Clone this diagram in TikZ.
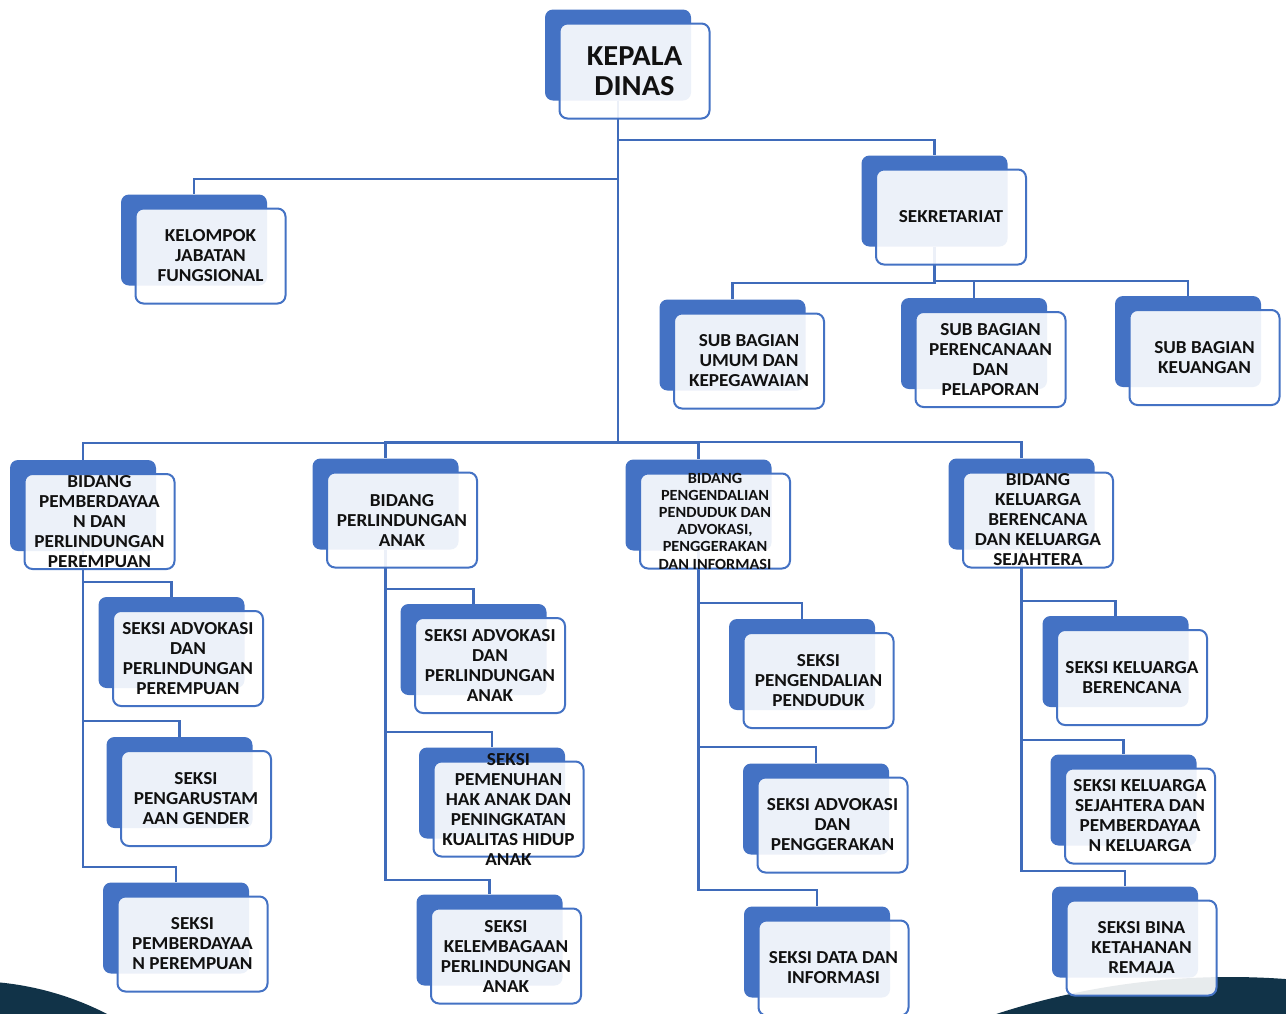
\documentclass[tikz,border=0pt]{standalone}
\usepackage{fontspec}
\setmainfont{Carlito}[FakeStretch=1.05]
\pgfdeclarelayer{bg}
\pgfdeclarelayer{backs}
\pgfdeclarelayer{lines}
\pgfsetlayers{bg,backs,lines,main}
\definecolor{myblue}{HTML}{4472C4}
\definecolor{linecol}{HTML}{3F6BBA}
\definecolor{darkbg}{RGB}{17,51,72}
\definecolor{textcol}{HTML}{111111}
\tikzset{
  backbox/.style={fill=myblue, rounded corners=8pt, minimum width=146pt, minimum height=91pt, inner sep=0pt},
  frontbox/.style={draw=myblue, line width=2pt, fill=white, fill opacity=0.9, rounded corners=8pt, minimum width=150pt, minimum height=95pt, inner sep=0pt},
  boxtext/.style={inner sep=0pt, align=center, text=textcol, font=\fontsize{18.3}{20}\selectfont\bfseries},
  smalltext/.style={font=\fontsize{15.5}{17.2}\selectfont\bfseries},
  bigtext/.style={font=\fontsize{29}{30}\selectfont\bfseries},
  conn/.style={draw=linecol, line width=2.2pt}
}
% #1 name, #2 back centre x, #3 back centre y, #4 extra text style, #5 text
\newcommand\orgbox[5]{%
  \begin{pgfonlayer}{backs}\node[backbox] (#1-b) at (#2,#3) {};\end{pgfonlayer}
  \node[frontbox] (#1) at (#2+16.5,#3+16) {};
  \node[boxtext,#4] (#1-t) at (#1.center) {#5};}
% #1 parent, #2 child, #3 level of the horizontal run
\newcommand\conn[3]{%
  \begin{pgfonlayer}{lines}\draw[conn] (#1-b.south) -- (#1-b.south |- 0,#3) -| (#2-b.north);\end{pgfonlayer}}
\begin{document}
\begin{tikzpicture}[x=1pt,y=-1pt]
\useasboundingbox (0,0) rectangle (1286,1013);
\begin{pgfonlayer}{bg}
  \fill[white] (0,0) rectangle (1286,1013);
  \fill[darkbg] (-30,1282) circle (301pt);
  \fill[darkbg] (1230,1730) circle (753pt);
\end{pgfonlayer}

\orgbox{kd}{618}{55}{bigtext}{KEPALA\\DINAS}
\orgbox{kjf}{194}{240}{}{KELOMPOK\\JABATAN\\FUNGSIONAL}
\orgbox{sek}{934.5}{201}{}{SEKRETARIAT}
\orgbox{sbu}{732.5}{345}{}{SUB BAGIAN\\UMUM DAN\\KEPEGAWAIAN}
\orgbox{sbp}{974}{343.5}{}{SUB BAGIAN\\PERENCANAAN\\DAN\\PELAPORAN}
\orgbox{sbk}{1188}{341.5}{}{SUB BAGIAN\\KEUANGAN}

\orgbox{b1}{83}{505.5}{}{BIDANG\\PEMBERDAYAA\\N DAN\\PERLINDUNGAN\\PEREMPUAN}
\orgbox{b2}{385.5}{504}{}{BIDANG\\PERLINDUNGAN\\ANAK}
\orgbox{b3}{698.5}{505}{smalltext}{BIDANG\\PENGENDALIAN\\PENDUDUK DAN\\ADVOKASI,\\PENGGERAKAN\\DAN INFORMASI}
\orgbox{b4}{1021.5}{504}{}{BIDANG\\KELUARGA\\BERENCANA\\DAN KELUARGA\\SEJAHTERA}

\orgbox{s11}{171.5}{642.5}{}{SEKSI ADVOKASI\\DAN\\PERLINDUNGAN\\PEREMPUAN}
\orgbox{s12}{179.5}{782.5}{}{SEKSI\\PENGARUSTAM\\AAN GENDER}
\orgbox{s13}{176}{928}{}{SEKSI\\PEMBERDAYAA\\N PEREMPUAN}

\orgbox{s21}{473.5}{649.5}{}{SEKSI ADVOKASI\\DAN\\PERLINDUNGAN\\ANAK}
\orgbox{s22}{492}{793}{}{SEKSI\\PEMENUHAN\\HAK ANAK DAN\\PENINGKATAN\\KUALITAS HIDUP\\ANAK}
\orgbox{s23}{489.5}{940}{}{SEKSI\\KELEMBAGAAN\\PERLINDUNGAN\\ANAK}

\orgbox{s31}{802}{664.5}{}{SEKSI\\PENGENDALIAN\\PENDUDUK}
\orgbox{s32}{816}{809}{}{SEKSI ADVOKASI\\DAN\\PENGGERAKAN}
\orgbox{s33}{817}{952}{}{SEKSI DATA DAN\\INFORMASI}

\orgbox{s41}{1115.5}{661.5}{}{SEKSI KELUARGA\\BERENCANA}
\orgbox{s42}{1123.5}{800}{}{SEKSI KELUARGA\\SEJAHTERA DAN\\PEMBERDAYAA\\N KELUARGA}
\orgbox{s43}{1125}{932}{}{SEKSI BINA\\KETAHANAN\\REMAJA}

\conn{kd}{kjf}{179}
\conn{kd}{sek}{140}
\conn{kd}{b1}{443}
\conn{kd}{b2}{442}
\conn{kd}{b3}{443}
\conn{kd}{b4}{442}
\conn{sek}{sbu}{283}
\conn{sek}{sbp}{281}
\conn{sek}{sbk}{281}

\conn{b1}{s11}{582}
\conn{b1}{s12}{721}
\conn{b1}{s13}{867}
\conn{b2}{s21}{589}
\conn{b2}{s22}{732}
\conn{b2}{s23}{880}
\conn{b3}{s31}{603}
\conn{b3}{s32}{747}
\conn{b3}{s33}{890}
\conn{b4}{s41}{601}
\conn{b4}{s42}{740}
\conn{b4}{s43}{871}
\end{tikzpicture}
\end{document}
